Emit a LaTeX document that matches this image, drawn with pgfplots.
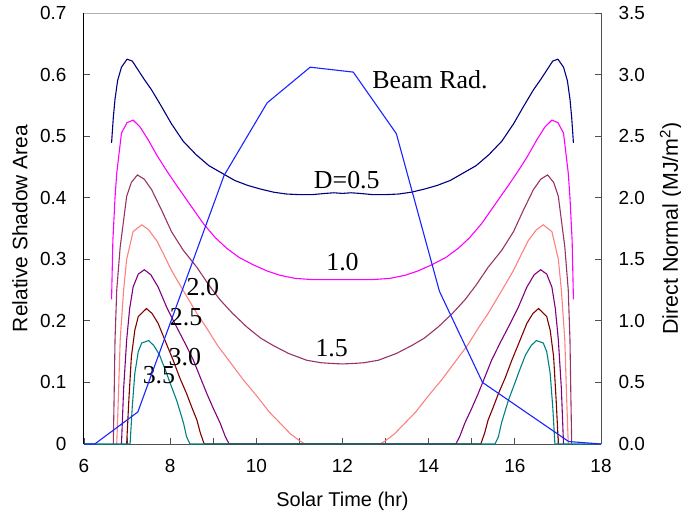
\documentclass[border=0pt]{standalone}
\usepackage{pgfplots}
\pgfplotsset{compat=1.18}
\usepackage{fontspec}
\setmainfont{Liberation Sans}
\newfontfamily\tnr{Liberation Serif}
\definecolor{c05}{RGB}{0,0,128}
\definecolor{c10}{RGB}{255,0,255}
\definecolor{c15}{RGB}{153,51,102}
\definecolor{c20}{RGB}{255,128,128}
\definecolor{c25}{RGB}{128,0,128}
\definecolor{c30}{RGB}{128,0,0}
\definecolor{c35}{RGB}{0,128,128}
\definecolor{beam}{RGB}{25,35,255}
\definecolor{axgray}{RGB}{80,80,80}
\begin{document}
\begin{tikzpicture}
\useasboundingbox (-84bp,-77bp) rectangle (597bp,444bp);
\pgfplotsset{
  base/.style={
    at={(0,0)}, anchor=south west, scale only axis,
    width=517bp, height=431bp,
    xmin=6, xmax=18,
    tick align=inside,
    major tick length=6bp, minor tick length=6bp,
    tick style={axgray, line width=0.8bp},
    ticklabel style={font=\fontsize{19}{22}\selectfont},
    /pgf/number format/assume math mode=true,
  }
}
\begin{axis}[base,
  ymin=0, ymax=0.7,
  axis x line*=bottom, axis y line*=left,
  x axis line style={axgray, line width=1bp, -},
  y axis line style={black, line width=1bp, -},
  xtick={6,8,...,18}, minor xtick={7,9,...,17},
  ytick={0,0.1,...,0.71},
  yticklabel style={xshift=-14bp},
  xticklabel style={yshift=-12bp},
  xlabel={Solar Time (hr)},
  ylabel={Relative Shadow Area},
  every axis x label/.style={at={(rel axis cs:0.5,-0.1323)}, anchor=center, font=\fontsize{20}{23}\selectfont},
  every axis y label/.style={at={(rel axis cs:-0.1238,0.5)}, anchor=center, rotate=90, font=\fontsize{21}{24}\selectfont},
  clip=false,
]
\draw[gray!60, line width=1bp] (rel axis cs:0,1) -- (rel axis cs:1,1);
% D = 0.5
\addplot[c05, line width=1.1bp] coordinates {
(6.64,0.489) (6.68,0.530) (6.72,0.560) (6.78,0.590) (6.87,0.612) (7.00,0.625) (7.12,0.622) (7.26,0.607)
(7.40,0.592) (7.57,0.575) (7.80,0.548) (8.03,0.520) (8.30,0.492) (8.60,0.470) (8.90,0.452) (9.20,0.440)
(9.50,0.428) (9.80,0.420) (10.10,0.414) (10.40,0.409) (10.70,0.406) (11.00,0.405) (11.30,0.405) (11.60,0.407)
(11.80,0.408) (12.00,0.407)
(12.20,0.408) (12.40,0.407) (12.70,0.405) (13.00,0.405) (13.30,0.406) (13.60,0.409) (13.90,0.414) (14.20,0.420)
(14.50,0.428) (14.80,0.440) (15.10,0.452) (15.40,0.470) (15.70,0.492) (15.97,0.520) (16.20,0.548) (16.43,0.575)
(16.60,0.592) (16.74,0.607) (16.88,0.622) (17.00,0.625) (17.13,0.612) (17.22,0.590) (17.28,0.560) (17.32,0.530)
(17.36,0.489)
};
% D = 1.0
\addplot[c10, line width=1.1bp] coordinates {
(6.64,0.235) (6.67,0.330) (6.72,0.400) (6.76,0.440) (6.87,0.505) (7.00,0.522) (7.14,0.526) (7.30,0.515)
(7.49,0.494) (7.70,0.468) (7.88,0.448) (8.10,0.425) (8.30,0.405) (8.55,0.380) (8.77,0.358) (9.05,0.335)
(9.31,0.318) (9.60,0.303) (9.93,0.291) (10.25,0.281) (10.55,0.274) (10.90,0.269) (11.30,0.267) (11.70,0.267)
(12.00,0.267)
(12.30,0.267) (12.70,0.267) (13.10,0.269) (13.45,0.274) (13.75,0.281) (14.07,0.291) (14.40,0.303) (14.69,0.318)
(14.95,0.335) (15.23,0.358) (15.45,0.380) (15.70,0.405) (15.90,0.425) (16.12,0.448) (16.30,0.468) (16.51,0.494)
(16.70,0.515) (16.86,0.526) (17.00,0.522) (17.13,0.505) (17.24,0.440) (17.28,0.400) (17.33,0.330) (17.36,0.235)
};
% D = 1.5
\addplot[c15, line width=1.1bp] coordinates {
(6.68,0.000) (6.70,0.080) (6.72,0.169) (6.76,0.250) (6.84,0.320) (6.99,0.402) (7.10,0.425) (7.24,0.437)
(7.40,0.430) (7.57,0.413) (7.80,0.380) (8.03,0.345) (8.30,0.315) (8.62,0.287) (8.90,0.258) (9.16,0.234)
(9.45,0.212) (9.78,0.190) (10.10,0.172) (10.39,0.160) (10.75,0.147) (11.17,0.136) (11.50,0.132) (11.71,0.131)
(12.00,0.130)
(12.29,0.131) (12.50,0.132) (12.83,0.136) (13.25,0.147) (13.61,0.160) (13.90,0.172) (14.22,0.190) (14.55,0.212)
(14.84,0.234) (15.10,0.258) (15.38,0.287) (15.70,0.315) (15.97,0.345) (16.20,0.380) (16.43,0.413) (16.60,0.430)
(16.76,0.437) (16.90,0.425) (17.01,0.402) (17.16,0.320) (17.24,0.250) (17.28,0.169) (17.30,0.080) (17.32,0.000)
};
% D = 2.0
\addplot[c20, line width=1.1bp] coordinates {
(6.76,0.000) (6.80,0.080) (6.84,0.169) (6.92,0.250) (6.99,0.300) (7.14,0.345) (7.34,0.356) (7.50,0.348)
(7.69,0.330) (7.85,0.308) (8.03,0.282) (8.23,0.258) (8.45,0.232) (8.62,0.212) (8.85,0.188) (9.10,0.160)
(9.39,0.133) (9.70,0.104) (10.01,0.078) (10.30,0.052) (10.55,0.034) (10.80,0.016) (11.01,0.005) (11.13,0.000)
(12.87,0.000) (12.99,0.005) (13.20,0.016) (13.45,0.034) (13.70,0.052) (13.99,0.078) (14.30,0.104) (14.61,0.133)
(14.90,0.160) (15.15,0.188) (15.38,0.212) (15.55,0.232) (15.77,0.258) (15.97,0.282) (16.15,0.308) (16.31,0.330)
(16.50,0.348) (16.66,0.356) (16.86,0.345) (17.01,0.300) (17.08,0.250) (17.16,0.169) (17.20,0.080) (17.24,0.000)
};
% D = 2.5
\addplot[c25, line width=1.1bp] coordinates {
(6.87,0.000) (6.92,0.090) (6.99,0.169) (7.06,0.220) (7.14,0.255) (7.26,0.276) (7.40,0.283) (7.55,0.275)
(7.72,0.255) (7.92,0.222) (8.15,0.190) (8.35,0.163) (8.54,0.136) (8.70,0.108) (8.85,0.082) (9.00,0.058)
(9.16,0.034) (9.28,0.012) (9.37,0.000)
(14.63,0.000) (14.72,0.012) (14.84,0.034) (15.00,0.058) (15.15,0.082) (15.30,0.108) (15.46,0.136) (15.65,0.163)
(15.85,0.190) (16.08,0.222) (16.28,0.255) (16.45,0.275) (16.60,0.283) (16.74,0.276) (16.86,0.255) (16.94,0.220)
(17.01,0.169) (17.08,0.090) (17.13,0.000)
};
% D = 3.0
\addplot[c30, line width=1.1bp] coordinates {
(6.99,0.000) (7.04,0.070) (7.10,0.142) (7.18,0.185) (7.26,0.207) (7.45,0.220) (7.58,0.212) (7.72,0.196)
(7.90,0.165) (8.07,0.136) (8.22,0.108) (8.38,0.082) (8.50,0.060) (8.62,0.039) (8.70,0.018) (8.79,0.000)
(15.21,0.000) (15.30,0.018) (15.38,0.039) (15.50,0.060) (15.62,0.082) (15.78,0.108) (15.93,0.136) (16.10,0.165)
(16.28,0.196) (16.42,0.212) (16.55,0.220) (16.74,0.207) (16.82,0.185) (16.90,0.142) (16.96,0.070) (17.01,0.000)
};
% D = 3.5
\addplot[c35, line width=1.1bp] coordinates {
(6.00,0.000) (7.07,0.000) (7.12,0.060) (7.18,0.115) (7.26,0.150) (7.34,0.164) (7.50,0.168) (7.62,0.160) (7.75,0.145)
(7.90,0.118) (8.02,0.095) (8.15,0.071) (8.31,0.034) (8.38,0.012) (8.46,0.000)
(15.54,0.000) (15.62,0.012) (15.69,0.034) (15.85,0.071) (15.98,0.095) (16.10,0.118) (16.25,0.145) (16.38,0.160)
(16.50,0.168) (16.66,0.164) (16.74,0.150) (16.82,0.115) (16.88,0.060) (16.93,0.000) (18.00,0.000)
};
\node[font=\tnr\fontsize{26}{30}\selectfont] at (axis cs:14.03,0.591) {Beam Rad.};
\node[font=\tnr\fontsize{26}{30}\selectfont] at (axis cs:12.10,0.429) {D=0.5};
\node[font=\tnr\fontsize{26}{30}\selectfont] at (axis cs:12.00,0.296) {1.0};
\node[font=\tnr\fontsize{26}{30}\selectfont] at (axis cs:11.75,0.156) {1.5};
\node[font=\tnr\fontsize{26}{30}\selectfont] at (axis cs:8.76,0.255) {2.0};
\node[font=\tnr\fontsize{26}{30}\selectfont] at (axis cs:8.37,0.206) {2.5};
\node[font=\tnr\fontsize{26}{30}\selectfont] at (axis cs:8.34,0.141) {3.0};
\node[font=\tnr\fontsize{26}{30}\selectfont] at (axis cs:7.74,0.112) {3.5};
\end{axis}
\begin{axis}[base,
  ymin=0, ymax=3.5,
  axis x line=none, axis y line*=right,
  y axis line style={axgray, line width=1bp, -},
  ytick={0,0.5,...,3.51},
  yticklabel style={xshift=14bp, /pgf/number format/.cd, fixed, fixed zerofill, precision=1},
  ylabel={Direct Normal (MJ/m\textsuperscript{2})},
  every axis y label/.style={at={(rel axis cs:1.1354,0.5)}, anchor=center, rotate=90, font=\fontsize{21.5}{24}\selectfont},
  clip=false,
]
\addplot[beam, line width=1.1bp] coordinates {
(6.00,0.00) (6.25,0.00) (7.25,0.26) (8.25,1.22) (9.25,2.18) (10.25,2.77) (11.25,3.06) (12.25,3.02)
(13.25,2.52) (14.25,1.24) (15.25,0.50) (16.25,0.26) (17.25,0.02) (18.00,0.00)
};
\end{axis}
\end{tikzpicture}
\end{document}
